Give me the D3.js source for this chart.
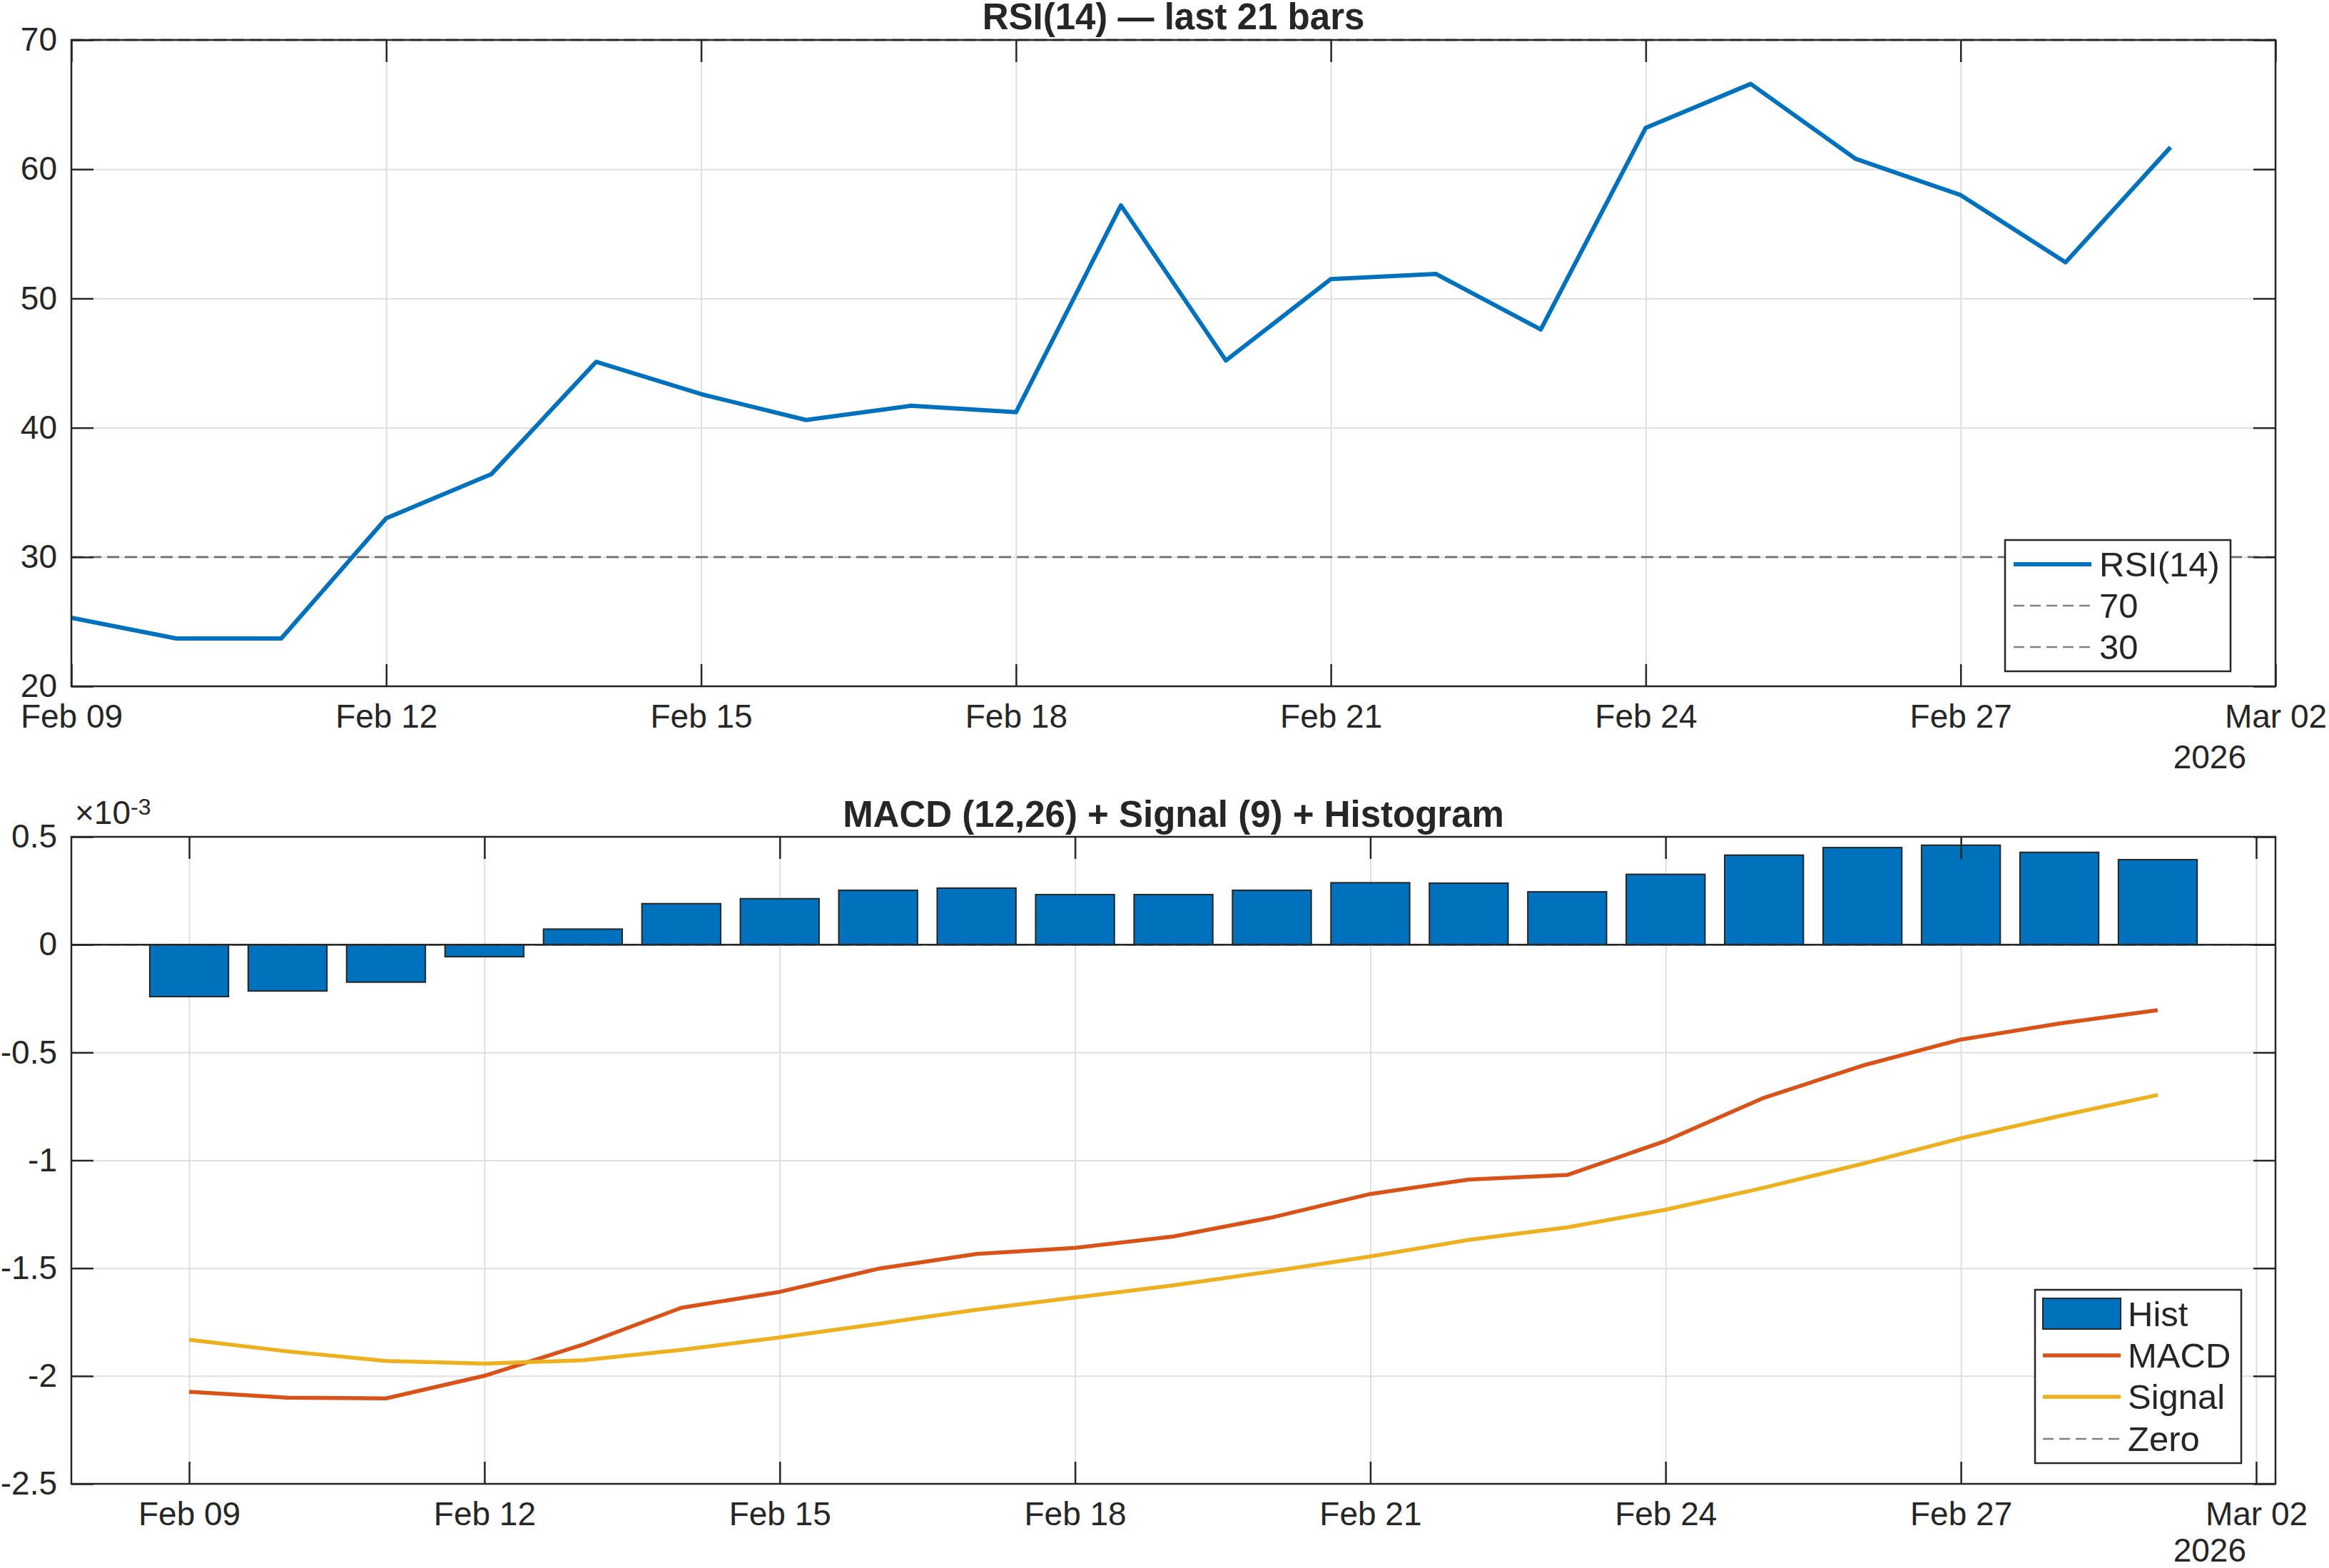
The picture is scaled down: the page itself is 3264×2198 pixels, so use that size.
<!DOCTYPE html>
<html>
<head>
<meta charset="utf-8">
<script src="https://cdn.jsdelivr.net/npm/d3@7"></script>
<style>
  html, body { margin: 0; padding: 0; background: #ffffff; }
  svg { display: block; }
</style>
</head>
<body>
<script>
// ---------------- DATA ----------------
const dates = ["2026-02-09","2026-02-10","2026-02-11","2026-02-12","2026-02-13","2026-02-14","2026-02-15",
               "2026-02-16","2026-02-17","2026-02-18","2026-02-19","2026-02-20","2026-02-21","2026-02-22",
               "2026-02-23","2026-02-24","2026-02-25","2026-02-26","2026-02-27","2026-02-28","2026-03-01"];
const rsi = [25.3, 23.7, 23.7, 33.0, 36.4, 45.1, 42.6, 40.6, 41.7, 41.2, 57.2,
             45.2, 51.5, 51.9, 47.6, 63.2, 66.6, 60.8, 58.0, 52.8, 61.7];
const macd = [-0.002073, -0.002101, -0.002104, -0.001999, -0.001855, -0.001684, -0.001610,
              -0.001503, -0.001434, -0.001406, -0.001353, -0.001265, -0.001156, -0.001089,
              -0.001068, -0.000910, -0.000710, -0.000561, -0.000440, -0.000366, -0.000304];
const signal = [-0.001832, -0.001886, -0.001930, -0.001943, -0.001927, -0.001879, -0.001821,
                -0.001758, -0.001693, -0.001636, -0.001580, -0.001515, -0.001446, -0.001369,
                -0.001311, -0.001229, -0.001127, -0.001016, -0.000898, -0.000795, -0.000697];
const hist = [-0.000241, -0.000215, -0.000174, -0.000056, 0.000072, 0.000190, 0.000213,
              0.000252, 0.000262, 0.000232, 0.000232, 0.000252, 0.000287, 0.000285,
              0.000245, 0.000326, 0.000415, 0.000450, 0.000461, 0.000428, 0.000394];
const xTickDates = ["2026-02-09","2026-02-12","2026-02-15","2026-02-18","2026-02-21","2026-02-24","2026-02-27","2026-03-02"];
const rsiTicks = [20, 30, 40, 50, 60, 70];
const macdTicks = [-0.0025, -0.002, -0.0015, -0.001, -0.0005, 0, 0.0005];
const rsiLevels = [70, 30];
const zeroLevel = [0];
const rsiLegend = ["RSI(14)", "70", "30"];
const macdLegend = ["Hist", "MACD", "Signal", "Zero"];
const yearLabel = "2026";
const title1 = "RSI(14) \u2014 last 21 bars";
const title2 = "MACD (12,26) + Signal (9) + Histogram";

// ---------------- STYLE ----------------
const W = 3264, H = 2198;
const FONT = "'Liberation Sans', Arial, Helvetica, sans-serif";
const TXT = "#262626";
const BLUE = "#0072BD", ORANGE = "#D95319", YELLOW = "#EDB120", GRAY = "#6e6e6e";
const GRID = "#dfdfdf";
const TICKLEN = 31;
const DAY = 864e5;

const parse = d3.utcParse("%Y-%m-%d");
const D = dates.map(parse);
const XT = xTickDates.map(parse);

const svg = d3.select("body").append("svg").attr("width", W).attr("height", H);
svg.append("rect").attr("width", W).attr("height", H).attr("fill", "#fff");

const P1 = {x0: 100, x1: 3189, y0: 56, y1: 962};
const P2 = {x0: 100, x1: 3189, y0: 1173, y1: 2080};

function styleAxis(g) {
  g.attr("font-family", FONT).attr("font-size", 46).attr("color", TXT);
  g.selectAll(".domain").remove();
  g.selectAll(".tick line").attr("stroke-width", 2.5);
}

function frame(P, x, y, xTicks, yTicks, yFmt) {
  const w = P.x1 - P.x0, h = P.y1 - P.y0;
  const root = svg.append("g").attr("transform", `translate(${P.x0},${P.y0})`);
  const grid = root.append("g");
  grid.append("g").attr("transform", `translate(0,${h})`)
    .call(d3.axisBottom(x).tickValues(xTicks).tickSize(-h).tickFormat(""))
    .call(g => { g.selectAll(".domain").remove(); g.selectAll("line").attr("stroke", GRID).attr("stroke-width", 2); });
  grid.append("g")
    .call(d3.axisLeft(y).tickValues(yTicks).tickSize(-w).tickFormat(""))
    .call(g => { g.selectAll(".domain").remove(); g.selectAll("line").attr("stroke", GRID).attr("stroke-width", 2); });
  const data = root.append("g");
  const axes = root.append("g");
  axes.append("g").attr("transform", `translate(0,${h})`)
    .call(d3.axisBottom(x).tickValues(xTicks).tickFormat(d3.utcFormat("%b %d"))
      .tickSize(-TICKLEN).tickSizeOuter(0).tickPadding(25))
    .call(styleAxis);
  axes.append("g")
    .call(d3.axisTop(x).tickValues(xTicks).tickFormat("").tickSize(-TICKLEN).tickSizeOuter(0))
    .call(styleAxis);
  axes.append("g")
    .call(d3.axisLeft(y).tickValues(yTicks).tickFormat(yFmt).tickSize(-TICKLEN).tickSizeOuter(0).tickPadding(20))
    .call(styleAxis);
  axes.append("g").attr("transform", `translate(${w},0)`)
    .call(d3.axisRight(y).tickValues(yTicks).tickFormat("").tickSize(-TICKLEN).tickSizeOuter(0))
    .call(styleAxis);
  axes.append("rect").attr("width", w).attr("height", h)
    .attr("fill", "none").attr("stroke", TXT).attr("stroke-width", 2.5);
  return {root, data, axes, w, h};
}

// ---------------- PLOT 1: RSI ----------------
{
  const x = d3.scaleUtc().domain([parse("2026-02-09"), parse("2026-03-02")]).range([0, P1.x1 - P1.x0]);
  const y = d3.scaleLinear().domain([20, 70]).range([P1.y1 - P1.y0, 0]);
  const f = frame(P1, x, y, XT, rsiTicks, d3.format("d"));

  f.data.selectAll(".lvl").data(rsiLevels).join("line")
    .attr("x1", 0).attr("x2", f.w).attr("y1", d => y(d)).attr("y2", d => y(d))
    .attr("stroke", GRAY).attr("stroke-width", 2.8).attr("stroke-dasharray", "17,8");

  f.data.append("path").datum(rsi)
    .attr("d", d3.line().x((d, i) => x(D[i])).y(d => y(d)))
    .attr("fill", "none").attr("stroke", BLUE).attr("stroke-width", 6).attr("stroke-linejoin", "round");

  svg.append("text").attr("x", (P1.x0 + P1.x1) / 2).attr("y", 41)
    .attr("text-anchor", "middle").attr("font-family", FONT).attr("font-size", 51)
    .attr("font-weight", "bold").attr("fill", TXT).text(title1);

  svg.append("text").attr("x", 3148).attr("y", 1077).attr("text-anchor", "end")
    .attr("font-family", FONT).attr("font-size", 46).attr("fill", TXT).text(yearLabel);

  // legend
  const L = svg.append("g");
  L.append("rect").attr("x", 2810).attr("y", 757).attr("width", 316).attr("height", 184)
    .attr("fill", "#fff").attr("stroke", TXT).attr("stroke-width", 2.5);
  const rowsY = [791, 849, 907];
  rsiLegend.forEach((lab, i) => {
    L.append("line").attr("x1", 2822).attr("x2", 2931).attr("y1", rowsY[i]).attr("y2", rowsY[i])
      .attr("stroke", i === 0 ? BLUE : "#808080").attr("stroke-width", i === 0 ? 6 : 2.5)
      .attr("stroke-dasharray", i === 0 ? null : "15,8");
    L.append("text").attr("x", 2942).attr("y", rowsY[i]).attr("dy", "0.35em")
      .attr("font-family", FONT).attr("font-size", 49).attr("fill", TXT).text(lab);
  });
}

// ---------------- PLOT 2: MACD ----------------
{
  const x = d3.scaleUtc()
    .domain([new Date(parse("2026-02-09").getTime() - 1.1965 * DAY), new Date(parse("2026-03-02").getTime() + 0.196 * DAY)])
    .range([0, P2.x1 - P2.x0]);
  const y = d3.scaleLinear().domain([-0.0025, 0.0005]).range([P2.y1 - P2.y0, 0]);
  const fmt = v => String(+(v * 1000).toFixed(1)).replace(/^-0$/, "0");
  const f = frame(P2, x, y, XT, macdTicks, fmt);

  const half = 0.4 * DAY;
  f.data.selectAll(".bar").data(hist).join("rect")
    .attr("x", (d, i) => x(new Date(D[i].getTime() - half)))
    .attr("width", (d, i) => x(new Date(D[i].getTime() + half)) - x(new Date(D[i].getTime() - half)))
    .attr("y", d => Math.min(y(d), y(0)))
    .attr("height", d => Math.abs(y(d) - y(0)))
    .attr("fill", BLUE).attr("stroke", TXT).attr("stroke-width", 2);

  f.data.selectAll(".zero").data(zeroLevel).join("line")
    .attr("x1", 0).attr("x2", f.w).attr("y1", d => y(d)).attr("y2", d => y(d))
    .attr("stroke", GRAY).attr("stroke-width", 2.5).attr("stroke-dasharray", "17,8");
  // bar baseline
  f.data.append("line").attr("x1", 0).attr("x2", f.w).attr("y1", y(0)).attr("y2", y(0))
    .attr("stroke", TXT).attr("stroke-width", 2.5);

  const ln = d3.line().x((d, i) => x(D[i])).y(d => y(d));
  f.data.append("path").datum(macd).attr("d", ln)
    .attr("fill", "none").attr("stroke", ORANGE).attr("stroke-width", 5.5).attr("stroke-linejoin", "round");
  f.data.append("path").datum(signal).attr("d", ln)
    .attr("fill", "none").attr("stroke", YELLOW).attr("stroke-width", 5.5).attr("stroke-linejoin", "round");

  svg.append("text").attr("x", (P2.x0 + P2.x1) / 2).attr("y", 1159)
    .attr("text-anchor", "middle").attr("font-family", FONT).attr("font-size", 51)
    .attr("font-weight", "bold").attr("fill", TXT).text(title2);

  const ex = svg.append("text").attr("x", 105).attr("y", 1155)
    .attr("font-family", FONT).attr("font-size", 46).attr("fill", TXT);
  ex.append("tspan").text("\u00d710");
  ex.append("tspan").attr("dy", -13).attr("font-size", 32).text("-3");

  svg.append("text").attr("x", 3148).attr("y", 2189).attr("text-anchor", "end")
    .attr("font-family", FONT).attr("font-size", 46).attr("fill", TXT).text(yearLabel);

  // legend
  const L = svg.append("g");
  L.append("rect").attr("x", 2852).attr("y", 1808).attr("width", 289).attr("height", 243)
    .attr("fill", "#fff").attr("stroke", TXT).attr("stroke-width", 2.5);
  const rowsY = [1842, 1900, 1958, 2017];
  const cols = [BLUE, ORANGE, YELLOW, "#808080"];
  macdLegend.forEach((lab, i) => {
    if (i === 0) {
      L.append("rect").attr("x", 2863).attr("y", 1820).attr("width", 109).attr("height", 43)
        .attr("fill", BLUE).attr("stroke", TXT).attr("stroke-width", 2);
    } else {
      L.append("line").attr("x1", 2863).attr("x2", 2972).attr("y1", rowsY[i]).attr("y2", rowsY[i])
        .attr("stroke", cols[i]).attr("stroke-width", i === 3 ? 2.5 : 5.5)
        .attr("stroke-dasharray", i === 3 ? "15,8" : null);
    }
    L.append("text").attr("x", 2982).attr("y", rowsY[i]).attr("dy", "0.35em")
      .attr("font-family", FONT).attr("font-size", 49).attr("fill", TXT).text(lab);
  });
}
</script>
</body>
</html>
